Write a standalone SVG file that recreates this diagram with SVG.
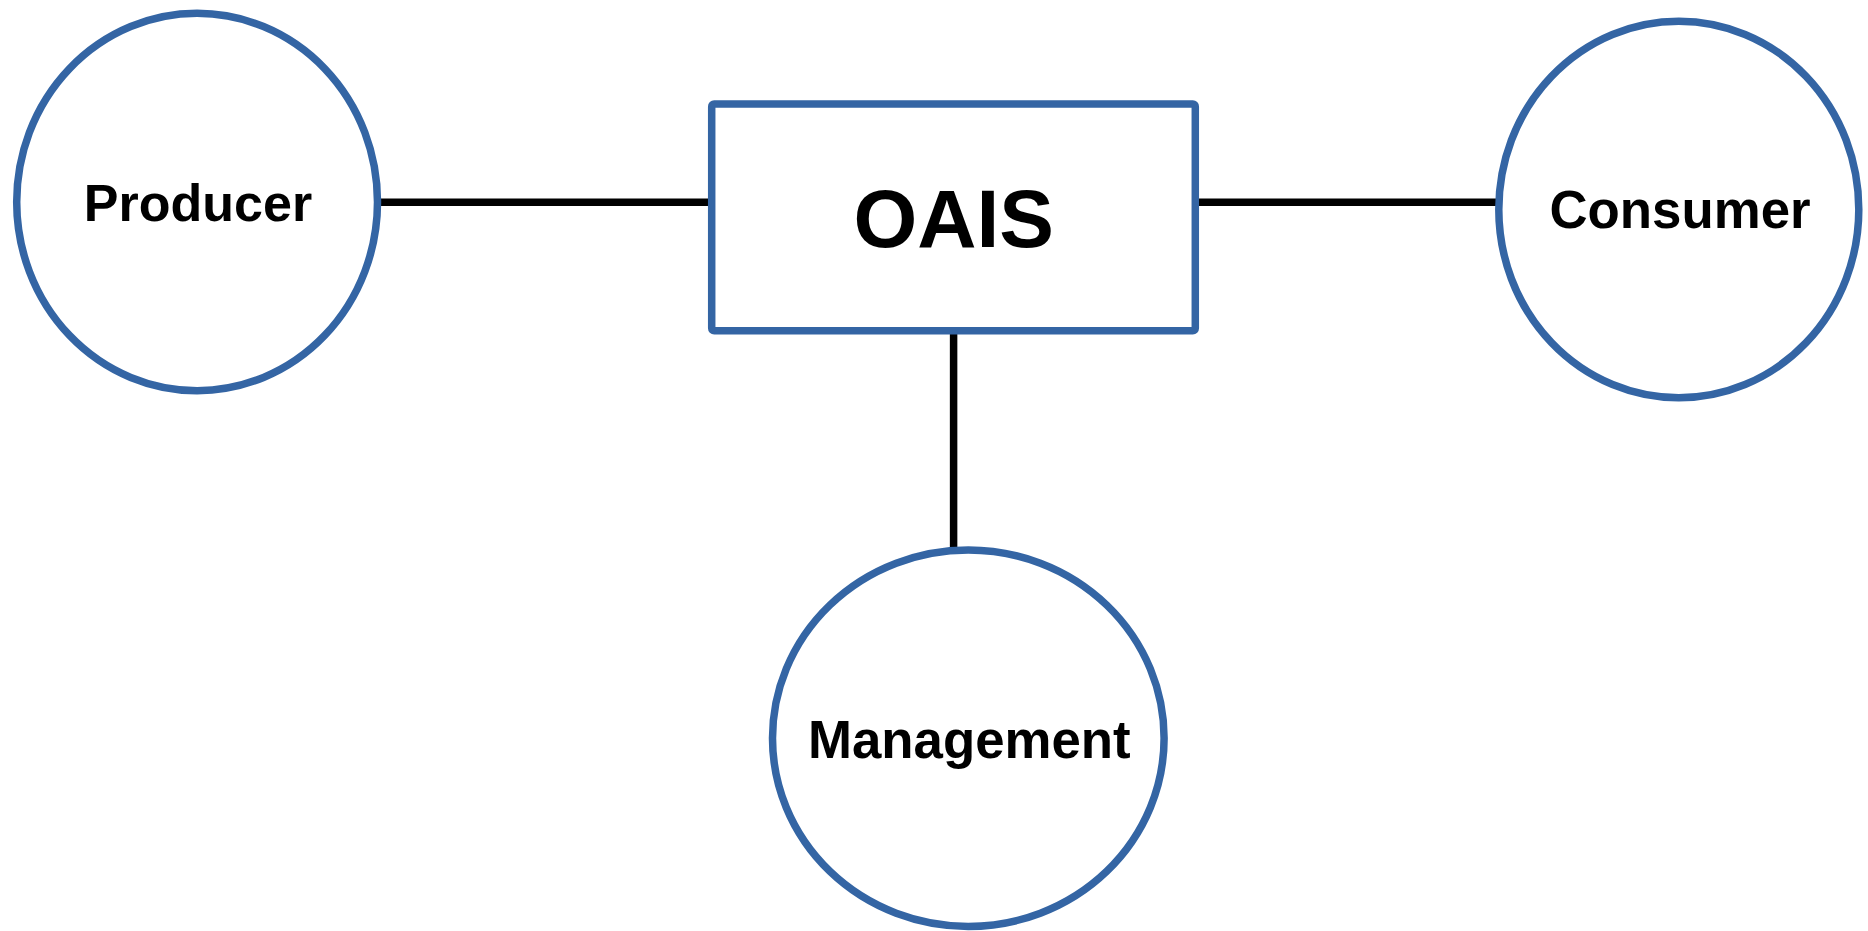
<svg xmlns="http://www.w3.org/2000/svg" width="1868" height="931" viewBox="0 0 1868 931">
<style>
.node{fill:#ffffff;stroke:#3465a4;stroke-width:7.5}
.edge{stroke:#000000;stroke-width:7.5;fill:none}
.lbl{font-family:"Liberation Sans",Arial,sans-serif;font-weight:bold;fill:#000000;text-anchor:middle}
</style>
<rect width="1868" height="931" fill="#ffffff"/>
<g id="connectors">
<line class="edge" x1="378" y1="202.2" x2="712" y2="202.2"/>
<line class="edge" x1="1195" y1="202.2" x2="1499" y2="202.2"/>
<line class="edge" x1="953.6" y1="331" x2="953.6" y2="551"/>
</g>
<g id="oais">
<rect class="node" x="711.7" y="104" width="483.6" height="226.8" rx="2.5"/>
<text class="lbl" x="953.7" y="246.7" font-size="82">OAIS</text>
</g>
<g id="producer">
<ellipse class="node" cx="197.1" cy="202" rx="180.4" ry="188.7"/>
<text class="lbl" x="198" y="220.7" font-size="52">Producer</text>
</g>
<g id="consumer">
<ellipse class="node" cx="1678.8" cy="209.5" rx="180" ry="188.3"/>
<text class="lbl" x="1680" y="228.3" font-size="52.8">Consumer</text>
</g>
<g id="management">
<ellipse class="node" cx="968.3" cy="738.2" rx="195.8" ry="188.2"/>
<text class="lbl" x="969.3" y="758.3" font-size="52.8">Management</text>
</g>
</svg>
